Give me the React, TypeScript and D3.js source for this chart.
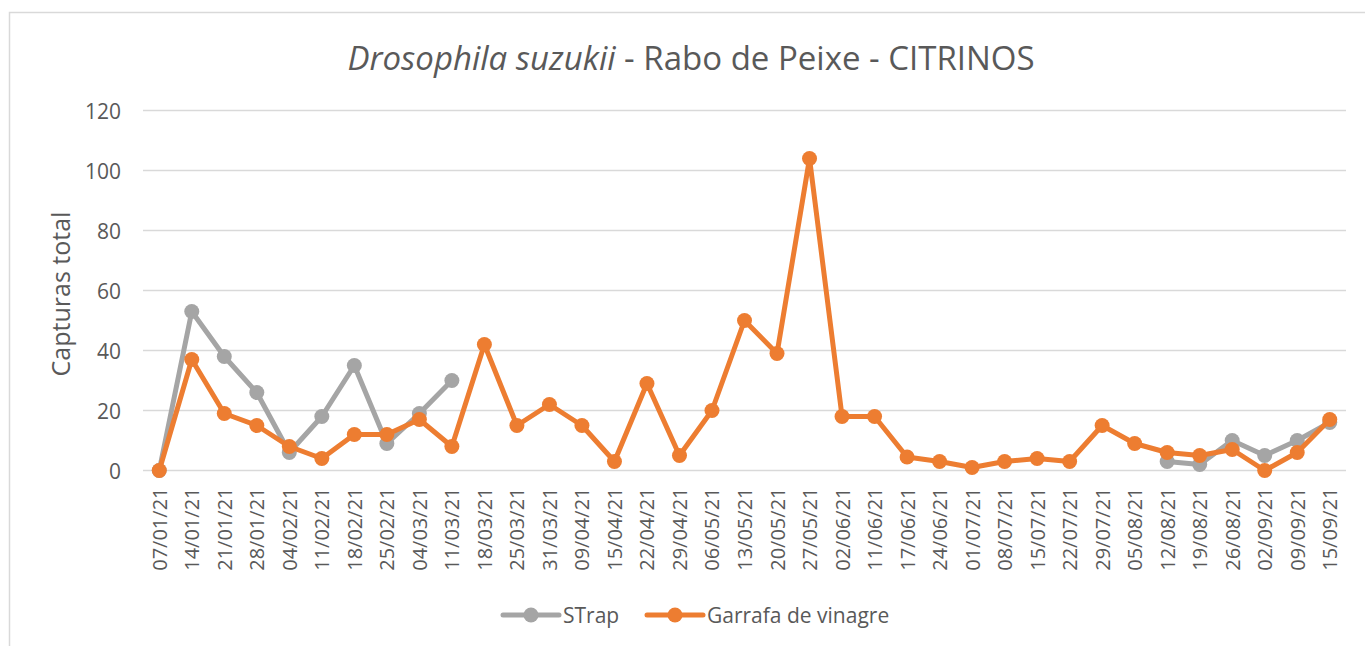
import { useEffect, useRef } from 'react';
import * as d3 from 'd3';

const DATES = [
  '07/01/21', '14/01/21', '21/01/21', '28/01/21', '04/02/21', '11/02/21', '18/02/21',
  '25/02/21', '04/03/21', '11/03/21', '18/03/21', '25/03/21', '31/03/21', '09/04/21',
  '15/04/21', '22/04/21', '29/04/21', '06/05/21', '13/05/21', '20/05/21', '27/05/21',
  '02/06/21', '11/06/21', '17/06/21', '24/06/21', '01/07/21', '08/07/21', '15/07/21',
  '22/07/21', '29/07/21', '05/08/21', '12/08/21', '19/08/21', '26/08/21', '02/09/21',
  '09/09/21', '15/09/21',
];

const STRAP: (number | null)[] = [
  0, 53, 38, 26, 6, 18, 35, 9, 19, 30,
  null, null, null, null, null, null, null, null, null, null, null,
  null, null, null, null, null, null, null, null, null, null,
  3, 2, 10, 5, 10, 16,
];

const GARRAFA: (number | null)[] = [
  0, 37, 19, 15, 8, 4, 12, 12, 17, 8, 42, 15, 22, 15, 3, 29, 5, 20, 50, 39, 104,
  18, 18, 4.5, 3, 1, 3, 4, 3, 15, 9, 6, 5, 7, 0, 6, 17,
];

const Y_TICKS = [0, 20, 40, 60, 80, 100, 120];

const SERIES = [
  { name: 'STrap', values: STRAP, color: '#A5A5A5' },
  { name: 'Garrafa de vinagre', values: GARRAFA, color: '#ED7D31' },
];

const FONT = '"Open Sans", "Noto Sans", sans-serif';
const TEXT = '#595959';

export default function App() {
  const svgRef = useRef<SVGSVGElement>(null);

  useEffect(() => {
    const el = svgRef.current;
    if (!el) return;
    const W = 1365, H = 646;
    const left = 143, right = 1346, top = 110.5, bottom = 470.5;

    const svg = d3.select(el);
    svg.selectAll('*').remove();

    // chart frame
    svg.append('rect')
      .attr('x', 9.5).attr('y', 12.5)
      .attr('width', W + 20).attr('height', H + 20)
      .attr('fill', '#fff').attr('stroke', '#D9D9D9').attr('stroke-width', 1.5);

    const x = d3.scaleBand().domain(DATES).range([left, right]);
    const y = d3.scaleLinear().domain([0, 120]).range([bottom, top]);
    const cx = (d: string) => (x(d) ?? 0) + x.bandwidth() / 2;

    // gridlines + y tick labels
    Y_TICKS.forEach((t) => {
      svg.append('line')
        .attr('x1', left).attr('x2', right)
        .attr('y1', y(t)).attr('y2', y(t))
        .attr('stroke', '#D9D9D9').attr('stroke-width', 1.5);
      svg.append('text')
        .attr('x', 121).attr('y', y(t))
        .attr('text-anchor', 'end').attr('dominant-baseline', 'central')
        .attr('font-family', FONT).attr('font-size', 21).attr('fill', TEXT)
        .text(t);
    });

    // x labels, rotated
    DATES.forEach((d) => {
      svg.append('text')
        .attr('transform', `translate(${cx(d)},${bottom + 17}) rotate(-90)`)
        .attr('text-anchor', 'end').attr('dominant-baseline', 'central')
        .attr('font-family', FONT).attr('font-size', 20).attr('fill', TEXT)
        .text(d);
    });

    // series
    SERIES.forEach((s) => {
      const line = d3.line<number | null>()
        .defined((v) => v !== null)
        .x((_, i) => cx(DATES[i]))
        .y((v) => y(v as number));
      svg.append('path')
        .datum(s.values)
        .attr('d', line)
        .attr('fill', 'none')
        .attr('stroke', s.color)
        .attr('stroke-width', 5)
        .attr('stroke-linejoin', 'round');
      s.values.forEach((v, i) => {
        if (v === null) return;
        svg.append('circle')
          .attr('cx', cx(DATES[i])).attr('cy', y(v))
          .attr('r', 7.5).attr('fill', s.color);
      });
    });

    // title
    const title = svg.append('text')
      .attr('x', 691).attr('y', 57)
      .attr('text-anchor', 'middle').attr('dominant-baseline', 'central')
      .attr('font-family', FONT).attr('font-size', 33).attr('fill', TEXT);
    title.append('tspan').attr('font-style', 'italic').text('Drosophila suzukii');
    title.append('tspan').text(' - Rabo de Peixe - CITRINOS');

    // y axis title
    svg.append('text')
      .attr('transform', `translate(60,294) rotate(-90)`)
      .attr('text-anchor', 'middle').attr('dominant-baseline', 'central')
      .attr('font-family', FONT).attr('font-size', 25).attr('fill', TEXT)
      .text('Capturas total');

    // legend
    const legendItems = [
      { s: SERIES[0], x0: 503 },
      { s: SERIES[1], x0: 647 },
    ];
    legendItems.forEach(({ s, x0 }) => {
      const ly = 615;
      svg.append('line')
        .attr('x1', x0).attr('x2', x0 + 56)
        .attr('y1', ly).attr('y2', ly)
        .attr('stroke', s.color).attr('stroke-width', 5).attr('stroke-linecap', 'round');
      svg.append('circle').attr('cx', x0 + 28).attr('cy', ly).attr('r', 7.5).attr('fill', s.color);
      svg.append('text')
        .attr('x', x0 + 60).attr('y', ly)
        .attr('dominant-baseline', 'central')
        .attr('font-family', FONT).attr('font-size', 21).attr('fill', TEXT)
        .text(s.name);
    });
  }, []);

  return (
    <svg
      ref={svgRef}
      width={1365}
      height={646}
      style={{ position: 'absolute', left: 0, top: 0, background: '#fff' }}
    />
  );
}
